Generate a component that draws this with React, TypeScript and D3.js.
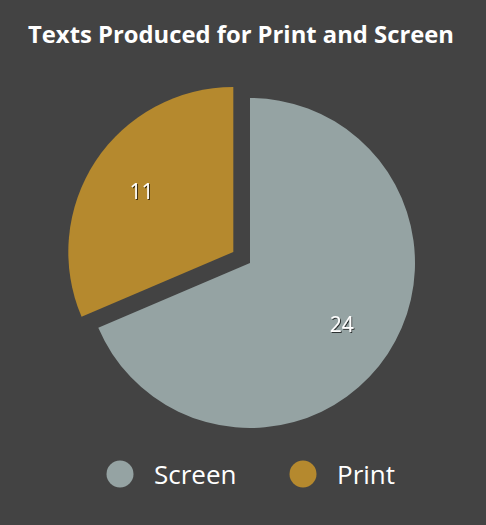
import { useMemo } from "react";
import * as d3 from "d3";

// ── Data ──────────────────────────────────────────────────
const categories = ["Screen", "Print"];
const values = [24, 11];
const colors = ["#95a3a3", "#b5892e"];
const exploded = ["Print"];

// ── Layout ────────────────────────────────────────────────
const W = 486;
const H = 525;
const CX = 250;
const CY = 263;
const R = 165;
const LABEL_R = 110;
const EXPLODE = 20;
const FONT = "'Open Sans', 'Noto Sans', sans-serif";

export default function App() {
  const slices = useMemo(() => {
    const rows = categories.map((c, i) => ({ label: c, value: values[i], color: colors[i] }));
    return d3.pie<typeof rows[number]>().sort(null).value(d => d.value)(rows);
  }, []);

  const arc = d3.arc<d3.PieArcDatum<any>>().innerRadius(0).outerRadius(R);
  const labelArc = d3.arc<d3.PieArcDatum<any>>().innerRadius(LABEL_R).outerRadius(LABEL_R);

  const legendX = d3.scalePoint<string>().domain(categories).range([120, 303]);

  return (
    <div style={{ position: "fixed", inset: 0, background: "#434343" }}>
      <svg width={W} height={H} style={{ display: "block" }}>
        <defs>
          <filter id="shadow" x="-20%" y="-20%" width="140%" height="140%">
            <feDropShadow dx={1} dy={1} stdDeviation={0.6} floodColor="#000" floodOpacity={0.7} />
          </filter>
        </defs>
        <rect width={W} height={H} fill="#434343" />

        <text x={241} y={43} textAnchor="middle" fontFamily={FONT}
          fontWeight={700} fontSize={23.8} fill="#ffffff">
          Texts Produced for Print and Screen
        </text>

        {slices.map(s => {
          const mid = (s.startAngle + s.endAngle) / 2;
          const off = exploded.includes(s.data.label) ? EXPLODE : 0;
          const dx = Math.sin(mid) * off;
          const dy = -Math.cos(mid) * off;
          const [lx, ly] = labelArc.centroid(s);
          return (
            <g key={s.data.label} transform={`translate(${CX + dx},${CY + dy})`}>
              <path d={arc(s) ?? ""} fill={s.data.color} />
              <text x={lx} y={ly} textAnchor="middle" dominantBaseline="central"
                fontFamily={FONT} fontSize={21} fill="#ffffff" filter="url(#shadow)">
                {s.data.value}
              </text>
            </g>
          );
        })}

        {categories.map((c, i) => (
          <g key={c} transform={`translate(${legendX(c)},474)`}>
            <circle r={13.5} fill={colors[i]} />
            <text x={34} y={0} dominantBaseline="central" fontFamily={FONT}
              fontSize={26} fill="#ffffff">
              {c}
            </text>
          </g>
        ))}
      </svg>
    </div>
  );
}
